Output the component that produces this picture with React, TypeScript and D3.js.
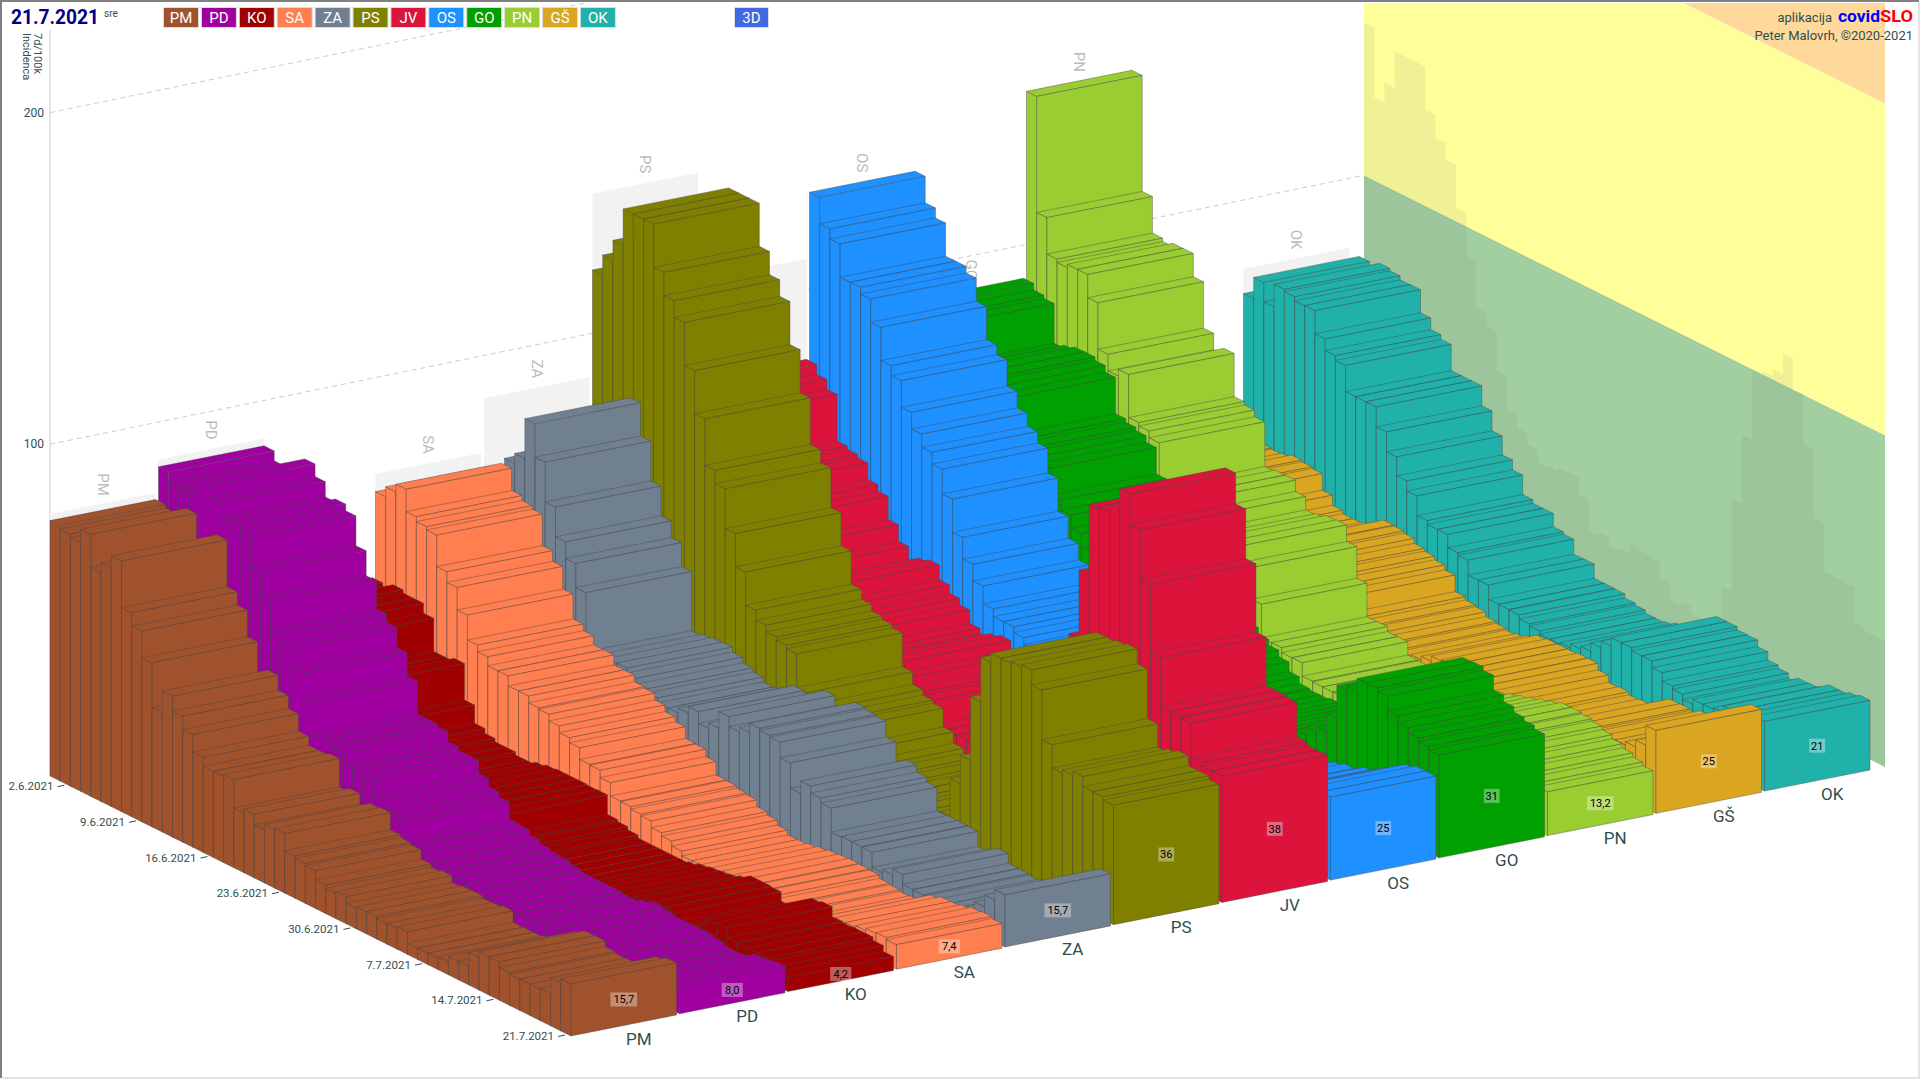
import React from "react";
import * as d3 from "d3";

// All series run newest bar first: index 0 is 21.7.2021, index 50 is 1.6.2021.
const regions = ["PM", "PD", "KO", "SA", "ZA", "PS", "JV", "OS", "GO", "PN", "GŠ", "OK"];
const colors = ["#A0522D", "#A000A0", "#A00000", "#FF7F50", "#708090", "#808000", "#DC143C", "#1E90FF", "#00A000", "#9ACD32", "#DAA520", "#20B2AA"];
const valueLabels = ["15,7", "8,0", "4,2", "7,4", "15,7", "36", "38", "25", "31", "13,2", "25", "21"];

const pm = [15.7,14.5,9.8,9.5,9.5,9.4,9.9,11.6,11.6,9.8,5.7,5.5,4,3.4,3.4,3.4,6.8,6.3,6.1,6.8,6.7,6.2,8.2,7.7,8.6,11.4,12,12.8,18,17.7,16,19.2,18,26.6,26,26,28.7,34,38,42.5,36,49.5,57.5,61.5,75.6,72,69,79,75,76,77];
const pd = [8,7.5,7,5.5,5,5.2,6,6.6,6.5,6.5,6.5,7,7.5,6.5,5.4,5.5,5.8,5.8,5.8,5.8,6.5,7.2,7.5,8.1,9.1,10.6,11,16,17.5,20,24,24,25,28,28.7,28.7,38.7,45.7,51.7,54.2,62.7,70.2,79.2,81.2,80.3,84.9,88.7,84,82.9,83.5,86.5];
const ko = [4.2,6,7,7,6.8,7,10,9.5,6,4.5,4,6.8,7,7,5.5,4.5,4,3.6,3,2,1.5,1.5,1.5,1.5,1.5,2.4,3.4,4,9.9,9.8,10,10,10,9.7,9,8.1,8.1,9,9,10,11.5,17,28,27,27,37,40,40,41,39,40];
const sa = [7.4,8,7.7,7,6.4,6.3,5.3,3,2,1.7,2.2,2.6,3.6,3.8,4,3.8,3.5,3,2.4,2,1.9,3.3,4.8,5.8,7.8,8.3,9,9.2,13.2,15.4,15.6,19.1,20.6,22.6,24.6,25,27,27,30,30,32.7,34.7,42.2,49,52.2,61.7,62.7,64.2,70.9,68.6,65.6];
const za = [15.7,12.6,9,6,4,3.5,3.4,3,3.4,3.5,6.5,4.8,4,8.5,8.7,8.7,8.5,15.7,17.2,19.3,15.6,23.2,27.9,28.4,29,26.2,24.9,27.9,22.9,21.3,24.8,22.8,21.3,21.3,22.8,24,25.7,27.2,27,26.5,26,43.8,51,56,65,77,87,75,72,66,60];
const ps = [36,37,37,40,39,38,45,60,64.5,64,63.4,63.4,60.6,47.2,28,19.5,8,7,7,6,5,5,5,6,7,8.4,11.8,17.4,18.3,20,23.8,34,35,36,38,41,51,61,73,77,91,104,117,122,129,142,142,142,131,125,119];
const jv = [38,38,39,49.4,49.8,49.8,64.4,85,100,109.3,103,101,100,78.7,58,30,18,13,12,11,10,10,10,10,10.5,10.5,10.5,10.5,18,19,22,25,24,22.5,24,28,30,32.5,37,36,33,38,43,50,52,57,58,59,73,76,79];
const os = [25,25,24,22,20,18,17,15,15,14,13,13,12,12,12,13,14,15,16,17,18,19,20,21,21,22,22,23,24,25,27,28.7,28.7,31,36.4,41.4,48,58,65.5,69,73,78,86,89,99,106,108,108,118,121,129];
const go = [31,32,33,34.6,36.6,41,42,41.8,38,36.7,26.7,21.1,19.6,17,15,14,13,12,11,10,9.5,9,9,9.4,11.4,14.3,16.3,18,20,23,26,30,33,36,40,44,48,51,59,61,62,63,74,76,77,77,76,75,87,88,90];
const pn = [13.2,14.3,15.5,16.7,17.9,19,19.6,20,20,19,18,17,16,15,14,13,13,12,12,11,11,11,11,11.2,15.2,15.2,16.7,16.6,26.7,36.2,41.2,41,40,39.6,43.6,47,47,46.5,60,62,63,76,74,79,93,100,100,99,100,111,146];
const gs = [25,19,17,16,15.9,15.4,13.9,14.4,14.3,10.8,9.5,9.7,9.4,10.3,10.1,12.3,14.3,14.3,14,14,14,13.6,12,11,10.5,11,11.5,12.9,13.4,14.4,19.4,20.9,22,22.8,24.3,25,25.2,23,21.5,21,21,22,25,30,30.5,31,30,29.7,30,30,29];
const ok = [21,20.3,19.5,19.5,17.5,17,16.9,15.4,16.9,17.8,20.3,22.3,22.3,23.2,23.2,20.6,18.6,16,15.1,14,13.5,13.5,14.4,15,16.2,16.3,16.3,20.6,20.5,25,25.7,29.7,29.7,30.8,36.7,39.7,45.4,51.4,57.4,57.4,57.4,65.3,66.7,70.2,77.2,77.1,78.3,79,72.2,78,71.6];
const series = [pm, pd, ko, sa, za, ps, jv, os, go, pn, gs, ok];

const dateTicks = ["21.7.2021", "14.7.2021", "7.7.2021", "30.6.2021", "23.6.2021", "16.6.2021", "9.6.2021", "2.6.2021"];
const dateTickAges = [0, 7, 14, 21, 28, 35, 42, 49];
const valueTicks = [100, 200];

const FONT = "Roboto, sans-serif";
const INK = "#2F4F4F";
const W = 1920, H = 1080;
const BARS = 51;

// Axonometric projection built from scales: region step, date depth, and height.
const regionX = d3.scaleLinear().domain([0, 12]).range([571, 571 + 108.5 * 12]);
const regionY = d3.scaleLinear().domain([0, 12]).range([1036, 1036 - 22.27 * 12]);
const ageX = d3.scaleLinear().domain([0, BARS]).range([0, -521]);
const ageY = d3.scaleLinear().domain([0, BARS]).range([0, -260]);
const height = d3.scaleLinear().domain([0, 100]).range([0, 331.7]);
const FACE_W = 105.5, FACE_H = 21;

type P = [number, number];
const project = (r: number, age: number, v: number, across = 0): P => [
  regionX(r) + ageX(age) + across * FACE_W,
  regionY(r) + ageY(age) - across * FACE_H - height(v),
];
const poly = (pts: P[]) => (d3.line()(pts) || "") + "Z";

// The wall on the right: it runs along the dates, behind the last region.
const wallX = d3.scaleLinear().domain([0, BARS]).range([1885, 1364]);
const wallY = d3.scaleLinear().domain([0, BARS]).range([767, 507]);
const wallPt = (age: number, v: number): P => [wallX(age), wallY(age) - height(v)];

const maxByAge = d3.range(BARS).map((a) => d3.max(series, (s) => s[a]) as number);
const maxByRegion = series.map((s) => d3.max(s) as number);

const Bars = () => {
  const out: React.ReactNode[] = [];
  for (let r = regions.length - 1; r >= 0; r--) {
    for (let a = BARS - 1; a >= 0; a--) {
      const v = series[r][a];
      const fl = project(r, a, v), fr = project(r, a, v, 1);
      const bl = project(r, a + 1, v), br = project(r, a + 1, v, 1);
      const fl0 = project(r, a, 0), fr0 = project(r, a, 0, 1), bl0 = project(r, a + 1, 0);
      out.push(
        <g key={r + "-" + a} fill={colors[r]} stroke="rgba(70,70,70,0.6)" strokeWidth={0.7} strokeLinejoin="round">
          <path d={poly([bl0, bl, fl, fl0])} />
          <path d={poly([fl, fr, br, bl])} />
          <path d={poly([fl0, fl, fr, fr0])} />
        </g>
      );
    }
  }
  return <g>{out}</g>;
};

export default function App() {
  const shadowPts: P[] = [];
  d3.range(BARS - 1, -1, -1).forEach((a) => {
    shadowPts.push(wallPt(a + 1, maxByAge[a]), wallPt(a, maxByAge[a]));
  });
  return (
    <svg width={W} height={H} style={{ position: "fixed", left: 0, top: 0, background: "#fff" }} fontFamily={FONT}>
      <defs>
        <clipPath id="page"><rect x={3} y={3} width={W - 6} height={H - 6} /></clipPath>
      </defs>
      <g clipPath="url(#page)">
        {/* wall bands */}
        <path d={poly([wallPt(BARS, 0), wallPt(BARS, 100), wallPt(0, 100), wallPt(0, 0)])} fill="#A1CF9F" />
        <path d={poly([wallPt(BARS, 100), wallPt(BARS, 200), wallPt(0, 200), wallPt(0, 100)])} fill="#FFFF99" />
        <path d={poly([wallPt(BARS, 200), wallPt(BARS, 300), wallPt(0, 300), wallPt(0, 200)])} fill="#FFD99C" />
        <path d={poly([wallPt(BARS, 0), ...shadowPts, wallPt(0, 0)])} fill="rgba(128,128,128,0.12)" />

        {/* value grid */}
        <line x1={50} x2={50} y1={30} y2={776} stroke="#ccc" strokeWidth={1} />
        {valueTicks.map((t) => {
          const a = project(0, BARS, t);
          return (
            <g key={t}>
              <line x1={a[0]} y1={a[1]} x2={1364} y2={wallPt(BARS, t)[1]} stroke="#ccc" strokeDasharray="5 4" />
              <text x={44} y={a[1] + 4} textAnchor="end" fontSize={12} fill={INK}>{t}</text>
            </g>
          );
        })}

        {/* region back panels and names */}
        {regions.map((name, r) => {
          const m = maxByRegion[r];
          const a0 = project(r, BARS, 0), a1 = project(r, BARS, m), b1 = project(r, BARS, m, 1), b0 = project(r, BARS, 0, 1);
          const cx = (a1[0] + b1[0]) / 2, cy = (a1[1] + b1[1]) / 2 - 19;
          return (
            <g key={name}>
              <path d={poly([a0, a1, b1, b0])} fill="#F2F2F2" />
              <text transform={`translate(${cx},${cy}) rotate(90)`} textAnchor="middle" dominantBaseline="central" fontSize={15} fill="#BBB">{name}</text>
            </g>
          );
        })}

        <Bars />

        {/* date axis */}
        {dateTicks.map((t, i) => {
          const p = project(0, dateTickAges[i], 0);
          return (
            <g key={t}>
              <line x1={p[0] - 13} y1={p[1] + 0.5} x2={p[0] - 6} y2={p[1] - 1} stroke={INK} strokeWidth={1} />
              <text x={p[0] - 17} y={p[1] + 4} textAnchor="end" fontSize={11.5} fill={INK}>{t}</text>
            </g>
          );
        })}

        {/* region names and latest values */}
        {regions.map((name, r) => {
          const a = project(r, 0, 0), b = project(r, 0, 0, 1);
          const cx = (a[0] + b[0]) / 2, cy = (a[1] + b[1]) / 2;
          const v = series[r][0];
          const my = cy - height(v) / 2;
          const w = valueLabels[r].length * 5.4 + 5;
          return (
            <g key={name}>
              <text x={cx + 15} y={cy + 19} textAnchor="middle" fontSize={17} fill={INK}>{name}</text>
              <rect x={cx - w / 2} y={my - 7} width={w} height={14} fill="rgba(255,255,255,0.35)" />
              <text x={cx} y={my + 4} textAnchor="middle" fontSize={11} fill="#000">{valueLabels[r]}</text>
            </g>
          );
        })}

        {/* header */}
        <text x={11} y={24} fontSize={20} fontWeight={700} fill="#000080" textLength={88} lengthAdjust="spacingAndGlyphs">21.7.2021</text>
        <text x={104} y={17} fontSize={10} fill={INK}>sre</text>
        {regions.map((name, r) => (
          <g key={name}>
            <rect x={163.5 + r * 37.9} y={7.5} width={35} height={20} fill={colors[r]} stroke="#ddd" strokeWidth={1} />
            <text x={181 + r * 37.9} y={23} textAnchor="middle" fontSize={15} fill="#fff">{name}</text>
          </g>
        ))}
        <rect x={734.5} y={7.5} width={34} height={20} fill="#4169E1" stroke="#ddd" strokeWidth={1} />
        <text x={751.5} y={23} textAnchor="middle" fontSize={15} fill="#fff">3D</text>
        <text transform="translate(34,33) rotate(90)" fontSize={11} fill={INK}>7d/100k</text>
        <text transform="translate(23,33) rotate(90)" fontSize={11} fill={INK}>Incidenca</text>

        <text x={1832} y={22} textAnchor="end" fontSize={13} fill={INK}>aplikacija</text>
        <text x={1838} y={22} fontSize={17} fontWeight={700} fill="#0000FF" textLength={42} lengthAdjust="spacingAndGlyphs">covid</text>
        <text x={1880} y={22} fontSize={17} fontWeight={700} fill="#FF0000" textLength={33} lengthAdjust="spacingAndGlyphs">SLO</text>
        <text x={1913} y={40} textAnchor="end" fontSize={13} fill={INK}>Peter Malovrh, ©2020-2021</text>
      </g>

      {/* inset page frame */}
      <path d="M1 1078V1H1919" fill="none" stroke="#808080" strokeWidth={2} />
      <path d="M2 1078H1919V2" fill="none" stroke="#E4E4E4" strokeWidth={2} />
    </svg>
  );
}
